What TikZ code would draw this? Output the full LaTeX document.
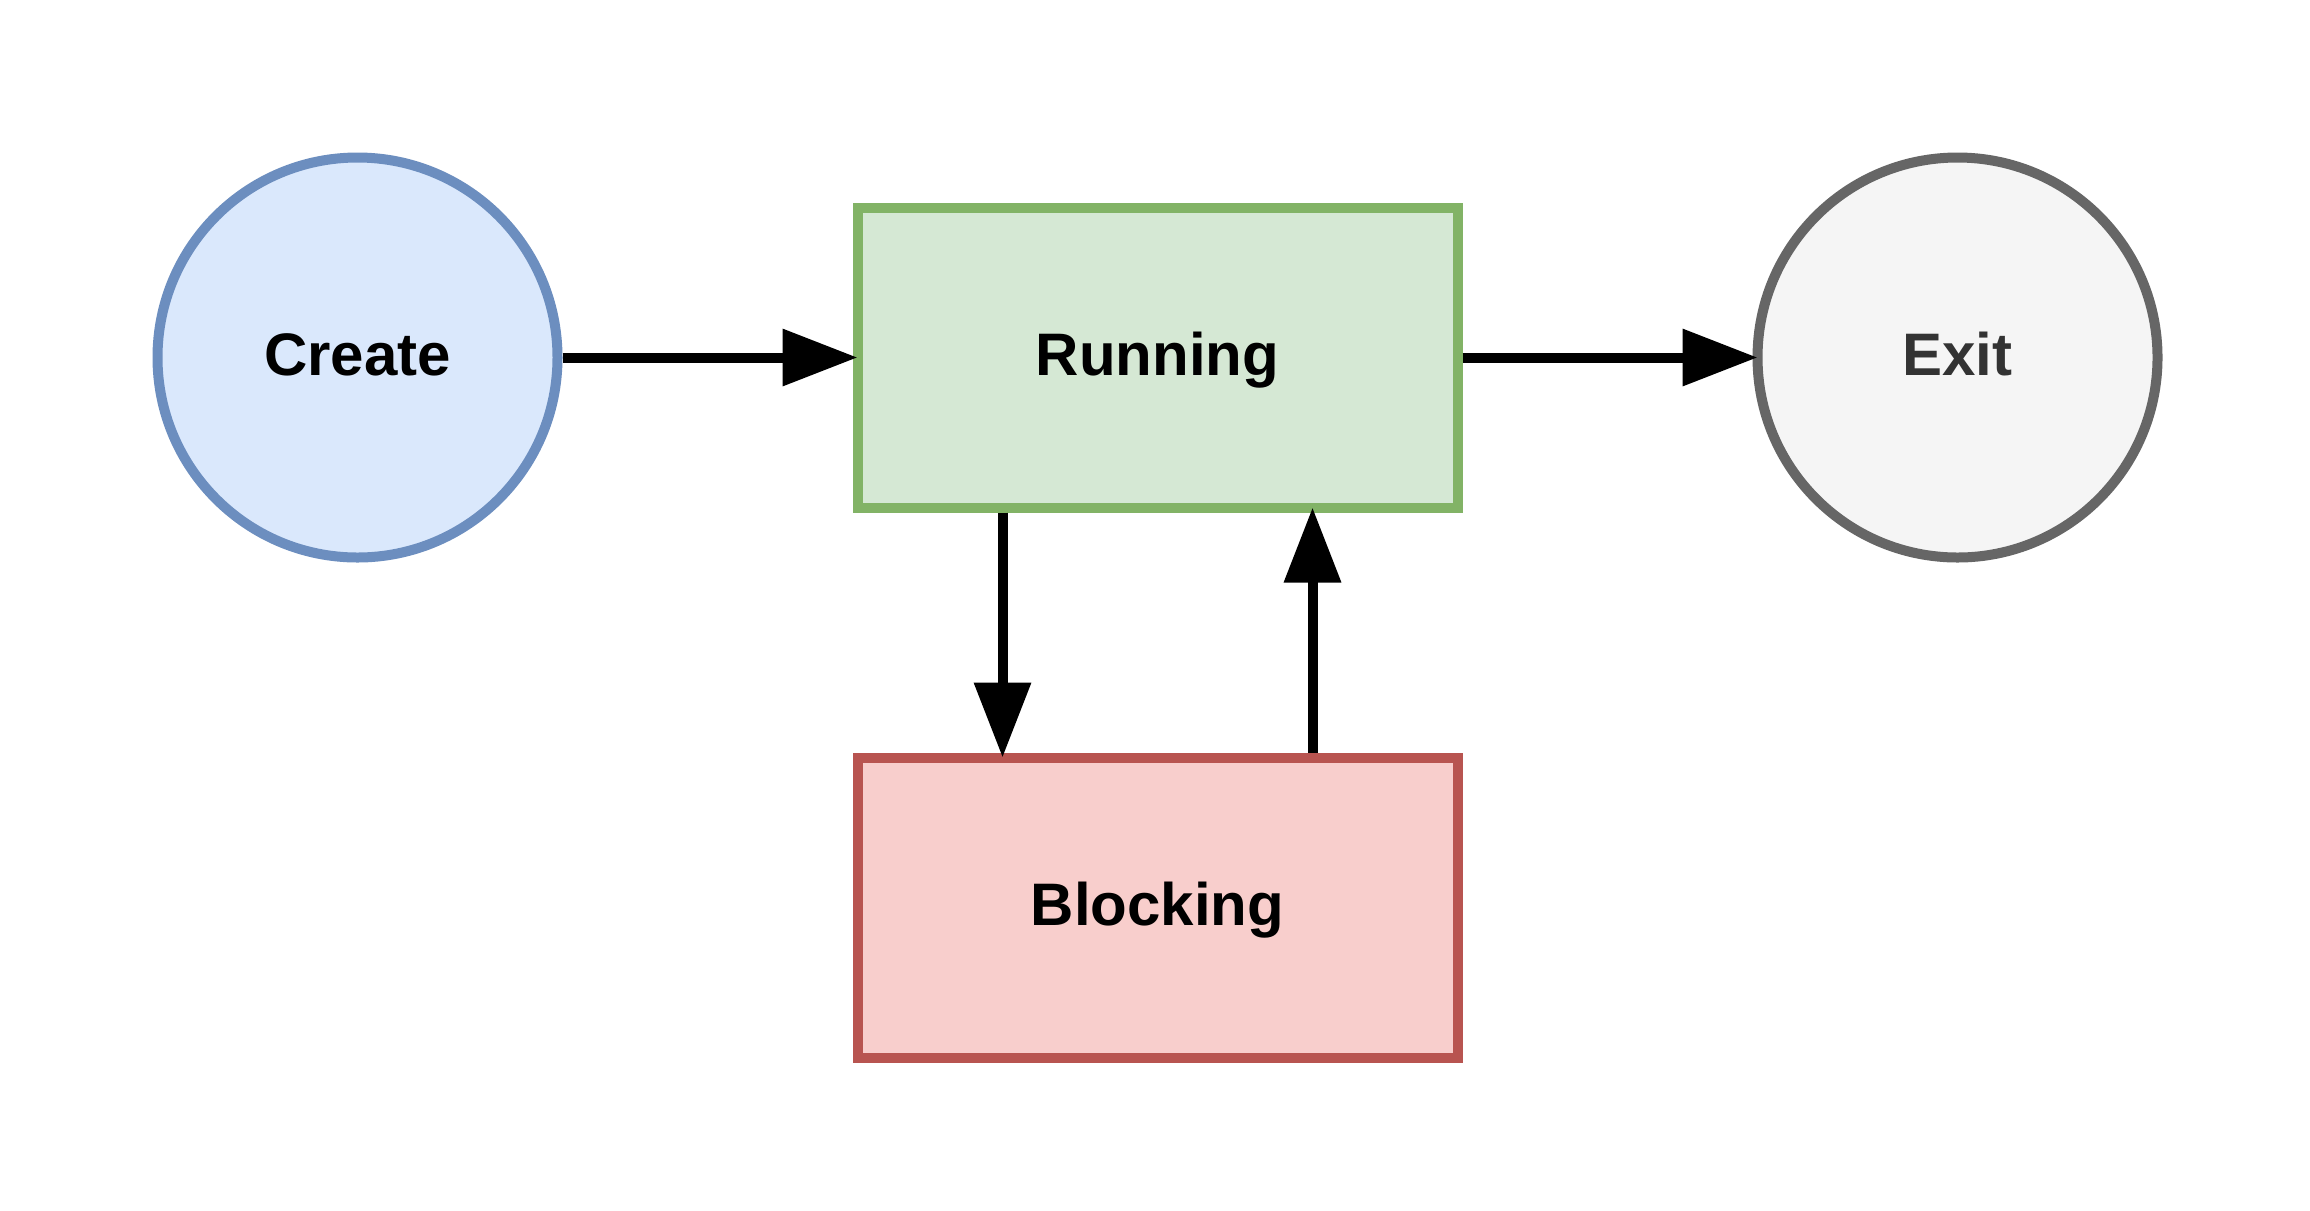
\documentclass[tikz,border=0pt]{standalone}
\usepackage{fontspec}
\setmainfont{Liberation Sans}
\usepackage{xcolor}
\usepackage{tikz}
\usetikzlibrary{arrows.meta}
\definecolor{C0}{HTML}{dae8fc}
\definecolor{C0s}{HTML}{6c8ebf}
\definecolor{R0}{HTML}{d5e8d4}
\definecolor{R0s}{HTML}{82b366}
\definecolor{B0}{HTML}{f8cecc}
\definecolor{B0s}{HTML}{b85450}
\definecolor{E0}{HTML}{f5f5f5}
\definecolor{E0s}{HTML}{666666}
\definecolor{E0t}{HTML}{333333}

\begin{document}
\begin{tikzpicture}[x=1pt, y=1pt,
  label text/.style={font=\fontsize{12}{14}\selectfont\bfseries, text height=9pt, text depth=1.8pt},
  state/.style={circle, draw, line width=2pt, minimum size=80pt, inner sep=0pt, label text},
  stage/.style={rectangle, draw, line width=2pt, minimum width=120pt, minimum height=60pt, inner sep=0pt, label text},
  link/.style={line width=2pt, -{Triangle[length=15pt, width=11pt]}, shorten >=-1pt}]%
\useasboundingbox (0,0) rectangle (462,242);%
\node[state, fill=C0, draw=C0s] (create) at (71.5, 170.5) {Create};%
\node[stage, fill=R0, draw=R0s] (run) at (231.5, 170.5) {Running};%
\node[state, fill=E0, draw=E0s, text=E0t] (exit) at (391.5, 170.5) {Exit};%
\node[stage, fill=B0, draw=B0s] (block) at (231.5, 60.5) {Blocking};%
\draw[link] (create) -- (run);%
\draw[link] (run) -- (exit);%
\draw[link] ([xshift=30pt]run.south west) -- ([xshift=30pt]block.north west);%
\draw[link] ([xshift=-30pt]block.north east) -- ([xshift=-30pt]run.south east);%
\end{tikzpicture}
\end{document}
